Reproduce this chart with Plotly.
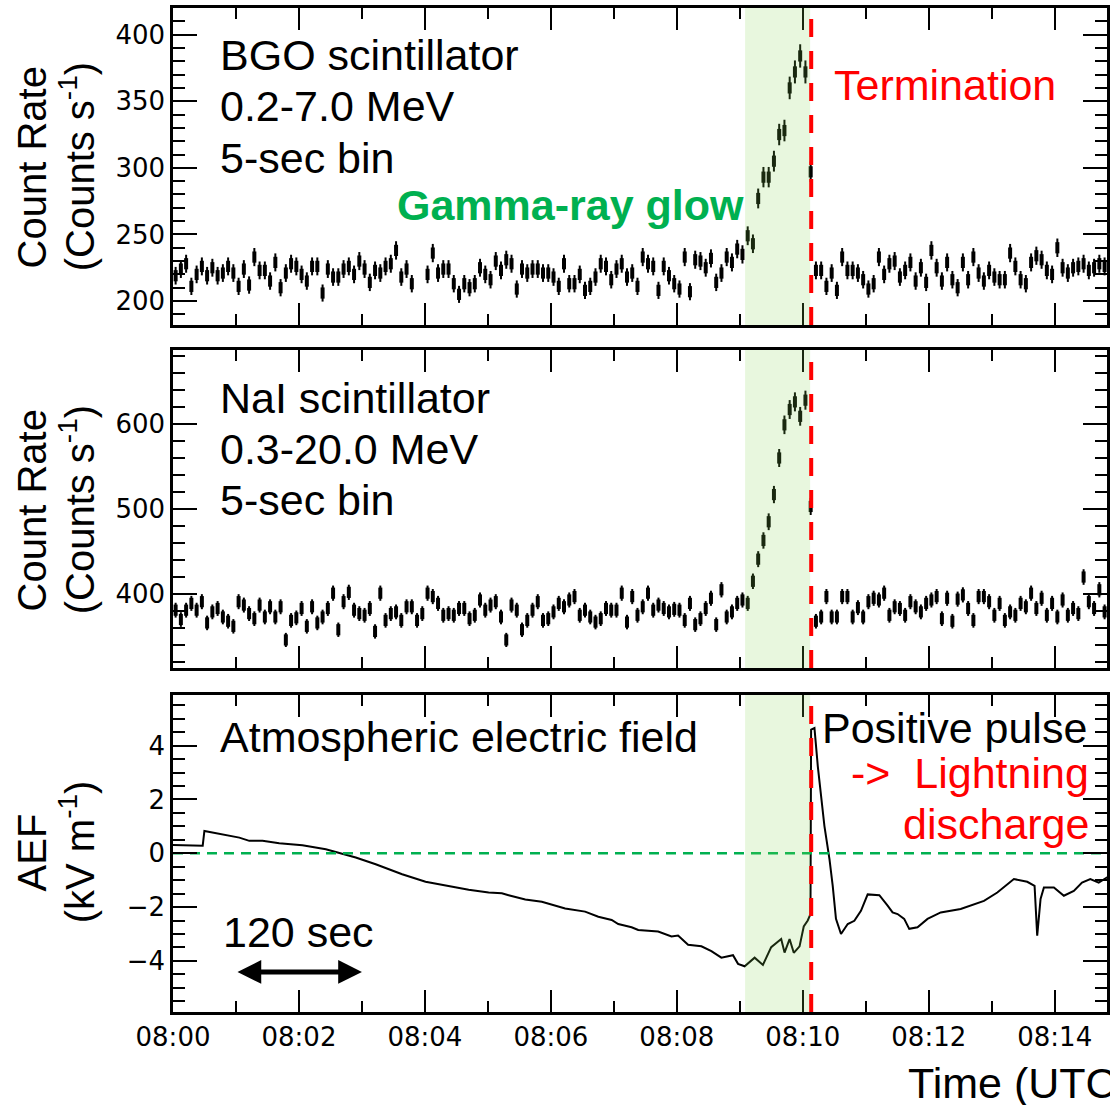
import numpy as np
import pandas as pd
import plotly.graph_objects as go
from plotly.subplots import make_subplots

# ---------------- data ----------------
START = pd.Timestamp("2017-01-13 08:00:00")
BIN_SEC = 5

# BGO 0.2-7.0 MeV, 5-s bins (counts/s); None = missing bin
bgo_rate = [
    219, 224, 228, 211, 220, 226, 219, 225, 219, 221, 226, 221, 211, 224, 212, 233, 223, 223, 215, 229,
    210, 221, 228, 226, 220, 215, 226, 226, 206, 224, 218, 218, 224, 226, 220, 230, 224, 214, 223, 221,
    226, 228, 238, 218, 224, 213, None, None, 220, 236, 221, 224, 224, 213, 205, 213, 210, 213, 225, 220,
    216, 230, 223, 231, 228, 209, 224, 221, 224, 224, 221, 221, 218, 211, 228, 213, 213, 220, 208, 211,
    218, 228, 226, 216, 224, 228, 218, 221, 211, 233, 228, 226, 208, 226, 219, 213, 209, 233, 207, 231,
    230, 225, 232, 214, 221, 233, 229, 239, 235, 249, 243, 277, 293, 293, 305, 325, 328, 360, 372, 384,
    372, 297, 223, 223, 211, 221, 208, 233, 223, 223, 221, 216, 209, 213, 233, 220, 228, 230, 218, 223,
    229, 215, 225, 214, 238, 225, 215, 229, 216, 210, 229, 216, 233, 221, 215, 223, 218, 216, 216, 236,
    226, 216, 213, 229, 234, 231, 223, 220, 240, 225, 221, 225, 226, 228, 223, 225, 228, 226,
]

# NaI 0.3-20.0 MeV, 5-s bins (counts/s)
nai_rate = [
    381, 370, 381, 389, 381, 391, 366, 379, 383, 373, 368, 362, 391, 387, 377, 371, 387, 373, 385, 373,
    385, 346, 369, 372, 383, 362, 385, 366, 373, 383, 401, 358, 391, 402, 381, 377, 375, 383, 356, 401,
    369, 377, 379, 369, 385, 385, 369, 377, 401, 397, 389, 375, 377, 375, 383, 383, 371, 375, 393, 381,
    387, 391, 373, 346, 387, 381, 358, 369, 381, 391, 369, 371, 379, 389, 385, 393, 397, 375, 381, 373,
    367, 371, 383, 381, 381, 401, 367, 397, 375, 385, 401, 381, 387, 383, 379, 382, 381, 369, 389, 364,
    371, 383, 395, 364, 405, 373, 379, 389, 393, 389, 415, 441, 463, 485, 517, 560, 599, 617, 626, 609,
    628, 503, 368, 373, 397, 373, 373, 397, 397, 373, 384, 373, 391, 395, 393, 401, 375, 385, 383, 375,
    391, 385, 379, 389, 393, 397, 371, 395, 368, 394, 399, 383, 369, 397, 397, 391, 375, 389, 369, 379,
    375, 389, 385, 401, 383, 395, 375, 389, 373, 393, 375, 383, 377, 420, 391, 383, 405, 379,
]

# Atmospheric electric field (seconds after 08:00:00, kV/m)
aef_sec = [
    0, 28.3, 29.9, 37.8, 53.7, 63.2, 72.7, 85.3, 101.2, 123.3, 145.6, 158.2, 174.1, 193.1, 218.3,
    240.6, 259.6, 281.7, 300.7, 313.3, 319.7, 335.6, 351.4, 364.1, 373.6, 392.6, 405.2, 417.9, 424.2,
    436.9, 443.2, 462.2, 474.9, 481.2, 490.7, 503.4, 512.9, 522.4, 533.5, 538.3, 544.6, 554.1, 562.0,
    569.9, 579.4, 582.6, 587.4, 591.4, 596.9, 600.9, 604.7, 607.3, 607.9, 611.1, 614.3, 620.6, 625.4,
    628.5, 631.6, 636.4, 642.8, 649.1, 655.4, 661.8, 672.9, 680.8, 685.5, 690.3, 696.6, 701.4, 709.3,
    718.8, 731.4, 750.4, 759.9, 772.6, 785.3, 801.1, 813.8, 820.8, 823.3, 826.5, 829.7, 839.2, 848.7,
    858.2, 866.0, 873.9, 881.9, 889.8, 900.0,
]
aef_kv = [
    0.31, 0.28, 0.83, 0.77, 0.64, 0.58, 0.46, 0.46, 0.37, 0.30, 0.15, 0.02, -0.16, -0.41, -0.78,
    -1.06, -1.21, -1.36, -1.46, -1.49, -1.56, -1.72, -1.80, -1.93, -2.05, -2.17, -2.36, -2.48, -2.63,
    -2.75, -2.85, -2.91, -3.09, -3.06, -3.40, -3.46, -3.64, -3.88, -3.79, -4.11, -4.20, -3.88, -4.15,
    -3.49, -3.19, -3.69, -3.19, -3.70, -3.46, -2.72, -2.50, -2.26, 4.59, 4.65, 3.23, 1.01, -0.22,
    -1.21, -2.44, -3.00, -2.63, -2.51, -2.14, -1.53, -1.56, -1.95, -2.20, -2.26, -2.44, -2.81, -2.75,
    -2.44, -2.20, -2.07, -1.93, -1.77, -1.46, -0.96, -1.06, -1.21, -3.06, -1.70, -1.27, -1.27, -1.58,
    -1.40, -1.09, -0.96, -1.09, -0.90, -0.92,
]

GLOW_START_SEC, GLOW_END_SEC = 545, 607
LIGHTNING_SEC = 608
XRANGE_END_SEC = 889.8
SCALE_BAR_SEC = (60, 180)

# ---------------- helpers ----------------
def ts(sec):
    return START + pd.to_timedelta(sec, unit="s")

bin_times = [ts(BIN_SEC * i + BIN_SEC / 2) for i in range(len(nai_rate))]
bgo_y = [np.nan if v is None else v for v in bgo_rate]
bgo_err = [np.nan if v is None else np.sqrt(v * BIN_SEC) / BIN_SEC for v in bgo_rate]
nai_err = [np.sqrt(v * BIN_SEC) / BIN_SEC for v in nai_rate]
aef_times = [ts(s) for s in aef_sec]

W, H = 1110, 1105
PX_L, PX_R, PY_T, PY_B = 173, 1110, 8, 1012


def pxx(x):
    return (x - PX_L) / (PX_R - PX_L)


def pxy(y):
    return (PY_B - y) / (PY_B - PY_T)


FONT = "Liberation Sans, Arial, Helvetica, sans-serif"
TICKFONT = dict(family="DejaVu Sans, Liberation Sans, sans-serif", size=26, color="black")
GREEN = "#00B050"
RED = "#FF0000"

fig = make_subplots(rows=3, cols=1, shared_xaxes=True, vertical_spacing=0.02)

marker = dict(symbol="line-ns-open", size=8, color="black", line=dict(width=4, color="black"))
fig.add_trace(go.Scatter(x=bin_times, y=bgo_y, mode="markers", marker=marker,
                         error_y=dict(type="data", array=bgo_err, visible=True, thickness=2, width=0, color="black"),
                         showlegend=False, hoverinfo="skip"), row=1, col=1)
fig.add_trace(go.Scatter(x=bin_times, y=nai_rate, mode="markers", marker=marker,
                         error_y=dict(type="data", array=nai_err, visible=True, thickness=2, width=0, color="black"),
                         showlegend=False, hoverinfo="skip"), row=2, col=1)
fig.add_trace(go.Scatter(x=aef_times, y=aef_kv, mode="lines", line=dict(color="black", width=2),
                         showlegend=False, hoverinfo="skip"), row=3, col=1)

# zero line (green dashed)
fig.add_trace(go.Scatter(x=[ts(0), ts(XRANGE_END_SEC + 20)], y=[0, 0], mode="lines",
                         line=dict(color=GREEN, width=2.5, dash="10px,7px"),
                         showlegend=False, hoverinfo="skip"), row=3, col=1)

# glow shading and lightning line per panel
for i, (xr, yr) in enumerate([("x", "y"), ("x2", "y2"), ("x3", "y3")]):
    fig.add_shape(type="rect", xref=xr, yref=yr + " domain", x0=ts(GLOW_START_SEC), x1=ts(GLOW_END_SEC),
                  y0=0, y1=1, fillcolor="rgba(132,211,79,0.19)", line=dict(width=0), layer="above")
    fig.add_shape(type="line", xref=xr, yref=yr + " domain", x0=ts(LIGHTNING_SEC), x1=ts(LIGHTNING_SEC),
                  y0=0, y1=1, line=dict(color=RED, width=4, dash="18px,14px"), layer="above")

axis_common = dict(showline=True, linecolor="black", linewidth=2.5, mirror="allticks", ticks="inside",
                   tickcolor="black", tickwidth=2, showgrid=False, zeroline=False, tickfont=TICKFONT)

xcommon = dict(axis_common, type="date", range=[ts(0), ts(XRANGE_END_SEC)], tick0=ts(0), dtick=120000,
               ticklen=22, tickformat="%H:%M",
               minor=dict(dtick=60000, ticklen=11, tickwidth=2, tickcolor="black", ticks="inside", showgrid=False))
fig.update_xaxes(**xcommon)
fig.update_xaxes(showticklabels=False, row=1, col=1)
fig.update_xaxes(showticklabels=False, row=2, col=1)
fig.update_xaxes(showticklabels=True, row=3, col=1)

fig.update_yaxes(axis_common, ticklen=24)
fig.update_layout(
    yaxis=dict(domain=[pxy(325), 1], range=[182, 420], tick0=0, dtick=50,
               minor=dict(dtick=10, ticklen=12, tickwidth=2, tickcolor="black", ticks="inside", showgrid=False)),
    yaxis2=dict(domain=[pxy(668), pxy(350)], range=[313, 687], tick0=0, dtick=100,
                minor=dict(dtick=20, ticklen=12, tickwidth=2, tickcolor="black", ticks="inside", showgrid=False)),
    yaxis3=dict(domain=[0, pxy(695)], range=[-5.9, 5.88], tick0=0, dtick=2,
                minor=dict(dtick=0.5, ticklen=12, tickwidth=2, tickcolor="black", ticks="inside", showgrid=False)),
)

ann = []


def text(x, y, s, size=43, color="black", xanchor="left", angle=0):
    ann.append(dict(xref="paper", yref="paper", x=pxx(x), y=pxy(y), text=s, showarrow=False,
                    xanchor=xanchor, yanchor="middle", textangle=angle,
                    font=dict(family=FONT, size=size, color=color)))


# panel texts
text(218, 55, "BGO scintillator")
text(218, 106, "0.2-7.0 MeV")
text(218, 158, "5-sec bin")
text(396, 205, "<b>Gamma-ray glow</b>", size=43, color=GREEN)
text(834, 85, "Termination", color=RED)
text(218, 398, "NaI scintillator")
text(218, 449, "0.3-20.0 MeV")
text(218, 500, "5-sec bin")
text(218, 737, "Atmospheric electric field")
text(1092, 728, "Positive pulse", xanchor="right")
text(1094, 773, "->  Lightning", color=RED, xanchor="right")
text(1094, 824, "discharge", color=RED, xanchor="right")
text(221, 932, "120 sec")
text(908, 1083, "Time (UTC)", size=43)

# axis titles (rotated)
for yc, l1, l2 in [(167, "Count Rate", "(Counts s<sup>-1</sup>)"),
                   (510, "Count Rate", "(Counts s<sup>-1</sup>)"),
                   (852, "AEF", "(kV m<sup>-1</sup>)")]:
    text(32, yc, l1, size=40, xanchor="center", angle=-90)
    text(77, yc, l2, size=40, xanchor="center", angle=-90)

# 120 s scale arrow
ann.append(dict(xref="x3", yref="y3", axref="x3", ayref="y3",
                x=ts(SCALE_BAR_SEC[1]), y=-4.41, ax=ts(SCALE_BAR_SEC[0]), ay=-4.41, text="",
                showarrow=True, arrowhead=2, startarrowhead=2, arrowside="end+start",
                arrowwidth=5, arrowsize=0.95, startarrowsize=0.95, arrowcolor="black"))

fig.update_layout(
    width=W, height=H,
    margin=dict(l=PX_L, r=W - PX_R, t=PY_T, b=H - PY_B),
    paper_bgcolor="white", plot_bgcolor="white",
    showlegend=False,
    annotations=ann,
    font=dict(family=FONT, color="black"),
)

fig.write_html("out.html")
